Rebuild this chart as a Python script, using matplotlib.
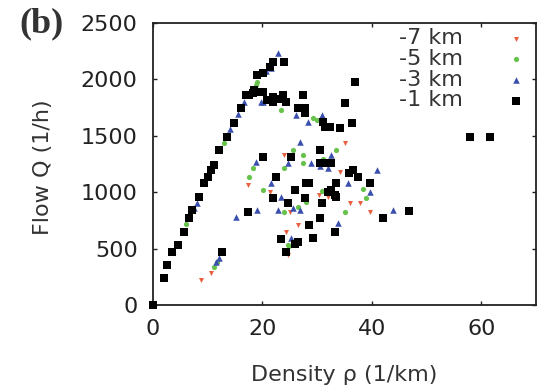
import matplotlib
matplotlib.use("Agg")
import matplotlib.pyplot as plt

# density rho (1/km), flow Q (1/h)
rho_1km = [0, 2.0, 2.6, 3.5, 4.5, 5.7, 6.6, 7.2, 8.4, 9.4, 10.0, 10.6, 11.2, 12.1,
           13.6, 14.9, 16.1, 17.0, 17.6, 18.2, 18.5, 19.8, 19.1, 20.1, 21.3, 21.9,
           24.0, 20.1, 21.9, 23.7, 24.3, 21.9, 20.9, 22.9, 27.4, 26.5, 27.7, 27.7,
           31.1, 32.3, 34.1, 31.4, 36.3, 35.0, 36.9,
           20.1, 25.3, 30.5, 30.5, 31.7, 32.6, 22.5, 25.9, 28.6, 21.9, 24.6, 27.7,
           32.0, 33.2, 17.3, 28.6, 30.5, 33.2, 23.4, 26.5, 29.2, 24.3, 12.7, 36.6,
           35.9, 37.5, 39.6, 33.5, 32.6, 33.5, 30.8, 28.0, 42.1, 46.7, 58.0, 61.5,
           26.0]
q_1km = [0, 236, 355, 473, 532, 650, 768, 842, 960, 1079, 1137, 1197, 1241, 1374,
         1492, 1611, 1743, 1862, 1862, 1877, 1906, 1891, 2039, 2054, 2113, 2157,
         2157, 1891, 1847, 1862, 1803, 1803, 1817, 1830, 1862, 1744, 1700, 1744,
         1625, 1581, 1566, 1581, 1611, 1788, 1980,
         1315, 1315, 1374, 1256, 1256, 1256, 1137, 1019, 1079, 946, 901, 946,
         1004, 975, 827, 709, 768, 650, 582, 561, 591, 473, 473, 1197,
         1170, 1137, 1079, 1079, 1019, 960, 901, 1079, 768, 833, 1492, 1492,
         540]

rho_3km = [22.8, 21.5, 20.6, 19.8, 16.7, 20.1, 15.5, 14.0, 8.0, 7.5, 26.2, 28.3,
           30.8, 26.8, 24.6, 18.8, 28.9, 32.6, 21.6, 40.9, 39.6, 35.7, 43.9, 33.8,
           15.2, 19.1, 22.8, 26.8, 23.4, 25.3, 12.1, 11.5, 30.5, 32.0, 25.6, 27.7]
q_3km = [2231, 2100, 2070, 1802, 1802, 1803, 1690, 1560, 900, 860, 1684, 1625,
         1684, 1448, 1256, 1271, 1256, 1330, 1079, 1197, 1004, 1079, 842, 724,
         783, 842, 842, 842, 960, 591, 414, 380, 1230, 1210, 860, 960]

rho_5km = [19.1, 18.8, 23.4, 29.2, 29.9, 25.6, 33.5, 18.2, 17.6, 27.4, 24.0, 20.1,
           24.6, 24.0, 35.0, 39.0, 27.4, 11.2, 11.7, 6.0, 13.0, 30.8, 38.3, 31.0,
           26.5, 24.8, 28.0]
q_5km = [1980, 1950, 1729, 1655, 1640, 1374, 1374, 1212, 1137, 1330, 1212, 1019,
         532, 827, 827, 946, 1256, 340, 380, 720, 1440, 1010, 1029, 1294,
         868, 520, 910]

rho_7km = [8.8, 10.6, 17.4, 21.3, 24.0, 25.0, 26.5, 24.3, 24.7, 35.0, 34.1, 36.0,
           37.8, 39.6, 31.9, 30.4, 24.5]
q_7km = [222, 281, 1064, 1004, 1330, 827, 709, 650, 443, 1433, 1182, 901,
         901, 827, 956, 971, 926]

plt.rcParams['font.family'] = 'DejaVu Sans'
plt.rcParams['font.size'] = 16

fig = plt.figure(figsize=(5.46, 3.89), dpi=100)
ax = fig.add_axes([0.280, 0.216, 0.702, 0.725])

ax.scatter(rho_7km, q_7km, marker='v', s=13, color='#e8603f', lw=0, label='-7 km', zorder=2)
ax.scatter(rho_5km, q_5km, marker='o', s=14, color='#66c24a', lw=0, label='-5 km', zorder=3)
ax.scatter(rho_3km, q_3km, marker='^', s=22, color='#3a4fae', lw=0, label='-3 km', zorder=4)
ax.scatter(rho_1km, q_1km, marker='s', s=26, color='black', lw=0, label='-1 km', zorder=5,
           clip_on=False)

ax.set_xlim(0, 70)
ax.set_ylim(0, 2500)
ax.set_xticks([0, 20, 40, 60])
ax.set_yticks([0, 500, 1000, 1500, 2000, 2500])
ax.tick_params(direction='in', length=3, width=1, top=True, right=True, labelsize=16, colors='#222222')
ax.tick_params(axis='x', pad=10)
ax.tick_params(axis='y', pad=11)
for sp in ax.spines.values():
    sp.set_linewidth(1.3)
    sp.set_color('#222222')

ax.set_xlabel(u'Density \u03c1 (1/km)', fontsize=16, color='#333333')
ax.xaxis.set_label_coords(0.5, -0.248)
ax.xaxis.label.set_va('center')
ax.set_ylabel('Flow Q (1/h)', fontsize=16, color='#333333')
ax.yaxis.set_label_coords(-0.286, 0.49)
ax.yaxis.label.set_va('center')

leg = ax.legend(loc='upper right', bbox_to_anchor=(1.0, 1.012), frameon=False,
                markerfirst=False, handlelength=1.0, handletextpad=1.9,
                labelspacing=0.03, borderaxespad=0.0, fontsize=16)
for t in leg.get_texts():
    t.set_color('#333333')

fig.text(0.076, 0.94, '(b)', fontsize=26, fontweight='bold', family='Liberation Serif',
         ha='center', va='center', color='#333333')

fig.savefig('out.png', dpi=100)
